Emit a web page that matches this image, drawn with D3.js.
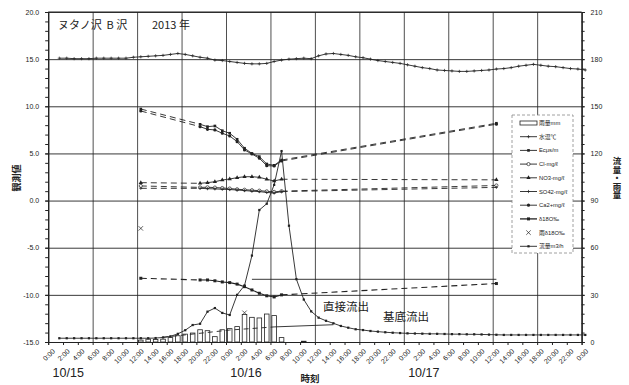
<!DOCTYPE html>
<html>
<head>
<meta charset="utf-8">
<script src="https://cdn.jsdelivr.net/npm/d3@7"></script>
<style>
  body { margin: 0; background: #fff; }
  svg { display: block; }
</style>
</head>
<body>
<svg id="chart" width="629" height="385"></svg>
<script>
// hourly records, hour counted from 10/15 0:00
const hours = [1,2,3,4,5,6,7,8,9,10,11,12,13,14,15,16,17,18,19,20,21,22,23,24,
  25,26,27,28,29,30,31,32,33,34,35,36,37,38,39,40,41,42,43,44,45,46,47,48,
  49,50,51,52,53,54,55,56,57,58,59,60,61,62,63,64,65,66,67,68,69,70,71,72];
const waterTemp = [15.1,15.1,15.05,15.05,15.05,15.1,15.1,15.1,15.1,15.1,15.2,15.25,
  15.3,15.35,15.4,15.5,15.6,15.5,15.35,15.2,15.1,14.9,14.85,14.75,
  14.65,14.55,14.5,14.5,14.55,14.75,14.9,15.0,15.05,15.1,15.05,15.35,
  15.55,15.6,15.5,15.4,15.25,15.15,15.0,14.85,14.75,14.65,14.55,14.4,
  14.25,14.1,14.0,13.85,13.8,13.75,13.7,13.7,13.75,13.8,13.85,13.95,
  14.0,14.1,14.25,14.35,14.45,14.35,14.25,14.2,14.1,14.0,13.95,13.85];
const flow = [2.4,2.4,2.4,2.4,2.4,2.4,2.4,2.4,2.4,2.4,2.4,2.4,
  2.4,2.5,2.9,3.6,5.2,7.5,10.8,11.6,19.3,21.6,18.5,17.2,
  30,36,55,84,88,100,121.5,74,40,27,19.5,15.5,
  13.5,11.9,10.2,9.1,8.1,7.6,7.0,6.6,6.2,5.9,5.7,5.5,
  5.4,5.3,5.2,5.2,5.1,5.0,5.0,4.9,4.9,4.8,4.7,4.6,
  4.5,4.5,4.5,4.5,4.5,4.5,4.5,4.5,4.5,4.5,4.5,4.5];

// rainfall (mm)
const rainHours = [12,13,14,15,16,17,18,19,20,21,22,23,24,25,26,27,28,29,30,31,34];
const rain = [1.2,1.8,1.6,1.8,2.8,4.0,5.0,5.7,7.8,7.2,3.4,7.8,8.5,9.8,17.5,15.7,15.3,17.8,16.8,2.8,0.5];

// water samples
const chemHours = [12,20,21,22,23,24,25,26,27,28,29,30,31,60];
const ec  = [9.71,8.09,7.84,7.91,7.41,7.14,6.5,5.55,5.0,4.66,3.88,3.74,4.3,8.2];
const cl  = [1.55,1.4,1.41,1.38,1.33,1.28,1.2,1.15,1.1,1.05,0.98,0.92,1.0,1.6];
const no3 = [1.9,1.83,1.9,2.0,2.18,2.29,2.43,2.53,2.53,2.47,2.26,2.08,2.26,2.2];
const so4 = [1.3,1.3,1.26,1.24,1.2,1.17,1.12,1.06,1.0,0.95,0.86,0.8,0.95,1.4];
const ca  = [9.5,7.84,7.56,7.49,7.14,6.85,6.25,5.37,4.94,4.49,3.7,3.67,4.2,8.1];
const d18O = [-8.24,-8.42,-8.42,-8.51,-8.63,-8.7,-8.86,-9.13,-9.48,-9.83,-10.1,-10.22,-10.0,-8.8];

const rainD18OHours = [12, 26];
const rainD18O = [-2.95, -11.9];

// hydrograph separation
const baseHours = [15, 24, 30, 38];
const baseFlow = [3.0, 7.6, 9.6, 11.0];
const refHours = [27, 60];
const refD18O = [-8.35, -8.35];

const hourLabels = ['0:00','2:00','4:00','6:00','8:00','10:00','12:00','14:00','16:00','18:00','20:00','22:00'];
const dayLabels = ['10/15','10/16','10/17'];
const legendLabels = ['雨量mm','水温℃','Ecμs/m','Cl-mg/ℓ','NO3-mg/ℓ','SO42-mg/ℓ','Ca2+mg/ℓ','δ18O‰','雨δ18O‰','流量m3/h'];

const latin = '"Liberation Sans", Arial, sans-serif';
const jp = '"Noto Sans CJK JP", "Noto Sans CJK SC", sans-serif';
const ink = '#222';

const svg = d3.select('#chart');
const plotL = 48.2, plotR = 581.6, plotT = 12, plotB = 342;

const x = d3.scaleLinear().domain([0, 72]).range([plotL, plotR]);
const yL = d3.scaleLinear().domain([-15, 20]).range([plotB, plotT]);
const yR = d3.scaleLinear().domain([0, 210]).range([plotB, plotT]);
// values sit in the middle of their hour
const xc = h => x(h + 0.5);

// grid
svg.append('g')
  .attr('transform', `translate(0,${plotB})`)
  .call(d3.axisBottom(x).tickValues(d3.range(0, 73, 6)).tickSize(-(plotB - plotT)).tickFormat(''))
  .call(g => g.select('.domain').remove())
  .selectAll('line').attr('stroke', '#888').attr('stroke-width', 0.8);

svg.append('g')
  .attr('transform', `translate(${plotL},0)`)
  .call(d3.axisLeft(yL).tickValues(d3.range(-15, 21, 5)).tickSize(-(plotR - plotL)).tickFormat(''))
  .call(g => g.select('.domain').remove())
  .selectAll('line').attr('stroke', '#999').attr('stroke-width', 0.9);

// axes
const leftAxis = svg.append('g').attr('transform', `translate(${plotL},0)`);
leftAxis.call(d3.axisLeft(yL).tickValues(d3.range(-15, 20.01, 1)).tickSize(3).tickFormat(''));
leftAxis.append('g').call(d3.axisLeft(yL).tickValues(d3.range(-15, 21, 5)).tickSize(3).tickPadding(6)
  .tickFormat(d => d.toFixed(1)));

const rightAxis = svg.append('g').attr('transform', `translate(${plotR},0)`);
rightAxis.call(d3.axisRight(yR).tickValues(d3.range(0, 211, 6)).tickSize(3).tickFormat(''));
rightAxis.append('g').call(d3.axisRight(yR).tickValues(d3.range(0, 211, 30)).tickSize(3).tickPadding(6));

const xAxis = svg.append('g').attr('transform', `translate(0,${plotB})`)
  .call(d3.axisBottom(x).tickValues(d3.range(0, 73, 2)).tickSize(3)
    .tickFormat(h => hourLabels[(h % 24) / 2]));
xAxis.selectAll('text')
  .attr('x', 0).attr('y', 0).attr('dy', '0.35em')
  .attr('transform', 'translate(5,8) rotate(-45)')
  .style('text-anchor', 'end');

svg.selectAll('.tick text').attr('font-family', latin).attr('font-size', 7).attr('fill', ink);
svg.selectAll('.domain, .tick line').attr('stroke', ink);
svg.selectAll('.domain').attr('stroke-width', 1);

svg.append('line').attr('x1', plotL).attr('x2', plotR).attr('y1', plotT).attr('y2', plotT)
  .attr('stroke', ink).attr('stroke-width', 1);

// rainfall bars
svg.append('g').selectAll('rect')
  .data(rainHours.map((h, i) => ({ h, v: rain[i] })))
  .join('rect')
  .attr('x', d => xc(d.h) - 2.3)
  .attr('width', 4.6)
  .attr('y', d => yR(d.v))
  .attr('height', d => yR(0) - yR(d.v))
  .attr('fill', '#fff')
  .attr('stroke', ink)
  .attr('stroke-width', 0.8);

// separation lines
const baseLine = d3.line().x(d => xc(d.h)).y(d => yR(d.v));
const basePts = baseHours.map((h, i) => ({ h, v: baseFlow[i] }));
svg.append('path').attr('d', baseLine(basePts.slice(0, 3)))
  .attr('fill', 'none').attr('stroke', ink).attr('stroke-width', 0.9).attr('stroke-dasharray', '5,4');
svg.append('path').attr('d', baseLine(basePts.slice(2)))
  .attr('fill', 'none').attr('stroke', ink).attr('stroke-width', 0.9);
svg.append('path')
  .attr('d', d3.line().x(d => xc(d.h)).y(d => yL(d.v))(refHours.map((h, i) => ({ h, v: refD18O[i] }))))
  .attr('fill', 'none').attr('stroke', ink).attr('stroke-width', 0.9);

// marker shapes
const plusShape = { draw(ctx, size) { const r = Math.sqrt(size) / 2; ctx.moveTo(-r, 0); ctx.lineTo(r, 0); ctx.moveTo(0, -r); ctx.lineTo(0, r); } };
const timesShape = { draw(ctx, size) { const r = Math.sqrt(size) / 2; ctx.moveTo(-r, -r); ctx.lineTo(r, r); ctx.moveTo(r, -r); ctx.lineTo(-r, r); } };
const markers = {
  plus:     { type: plusShape, size: 10, fill: 'none', stroke: ink },
  square:   { type: d3.symbolSquare, size: 7, fill: ink, stroke: 'none' },
  circleO:  { type: d3.symbolCircle, size: 8, fill: '#fff', stroke: ink },
  triangle: { type: d3.symbolTriangle, size: 8, fill: ink, stroke: 'none' },
  circle:   { type: d3.symbolCircle, size: 8, fill: ink, stroke: 'none' },
  bigSquare:{ type: d3.symbolSquare, size: 9, fill: ink, stroke: 'none' },
  times:    { type: timesShape, size: 20, fill: 'none', stroke: ink },
  small:    { type: d3.symbolSquare, size: 5, fill: ink, stroke: 'none' }
};

function drawMarkers(pts, yScale, m) {
  svg.append('g').selectAll('path')
    .data(pts)
    .join('path')
    .attr('transform', d => `translate(${xc(d.h)},${yScale(d.v)})`)
    .attr('d', d3.symbol().type(m.type).size(m.size))
    .attr('fill', m.fill)
    .attr('stroke', m.stroke)
    .attr('stroke-width', 0.7);
}

function drawSeries(hs, vals, yScale, m, width) {
  const pts = hs.map((h, i) => ({ h, v: vals[i] }));
  const line = d3.line().x(d => xc(d.h)).y(d => yScale(d.v));
  for (let i = 0; i < pts.length - 1; i++) {
    const gap = pts[i + 1].h - pts[i].h > 1;
    svg.append('path')
      .attr('d', line([pts[i], pts[i + 1]]))
      .attr('fill', 'none')
      .attr('stroke', ink)
      .attr('stroke-width', width)
      .attr('stroke-dasharray', gap ? '6,4' : null);
  }
  drawMarkers(pts, yScale, m);
}

drawSeries(hours, waterTemp, yL, markers.plus, 0.9);
drawSeries(chemHours, ec, yL, markers.square, 0.9);
drawSeries(chemHours, cl, yL, markers.circleO, 0.9);
drawSeries(chemHours, no3, yL, markers.triangle, 0.9);
drawSeries(chemHours, so4, yL, markers.plus, 0.9);
drawSeries(chemHours, ca, yL, markers.circle, 0.9);
drawSeries(chemHours, d18O, yL, markers.bigSquare, 1.1);
drawMarkers(rainD18OHours.map((h, i) => ({ h, v: rainD18O[i] })), yL, markers.times);
drawSeries(hours, flow, yR, markers.small, 0.9);

// legend
const legend = svg.append('g');
legend.append('rect').attr('x', 512).attr('y', 115).attr('width', 61).attr('height', 138)
  .attr('fill', '#fff').attr('stroke', '#888').attr('stroke-width', 0.8).attr('stroke-dasharray', '3,2');
const legendMarks = [null, markers.plus, markers.square, markers.circleO, markers.triangle,
  markers.plus, markers.circle, markers.bigSquare, markers.times, markers.small];
legendLabels.forEach((label, i) => {
  const ly = 123 + i * 13.7;
  const item = legend.append('g').attr('transform', `translate(520,${ly})`);
  if (i === 0) {
    item.append('rect').attr('x', 0).attr('y', -2).attr('width', 17).attr('height', 4)
      .attr('fill', '#fff').attr('stroke', ink).attr('stroke-width', 0.8);
  } else {
    if (i !== 8) {
      item.append('line').attr('x1', 0).attr('x2', 17).attr('stroke', ink).attr('stroke-width', i === 7 ? 1.3 : 0.9);
    }
    const m = legendMarks[i];
    item.append('path').attr('transform', 'translate(8.5,0)')
      .attr('d', d3.symbol().type(m.type).size(m.size))
      .attr('fill', m.fill).attr('stroke', m.stroke).attr('stroke-width', 0.7);
  }
  item.append('text').attr('x', 19).attr('y', 2)
    .attr('font-family', `${latin}, ${jp}`).attr('font-size', 5.8).attr('fill', ink)
    .text(label);
});

// texts
svg.append('text').attr('x', 58).attr('y', 29).attr('xml:space', 'preserve')
  .attr('font-family', jp).attr('font-size', 11).attr('fill', ink).text('ヌタノ沢  B 沢');
svg.append('text').attr('x', 152).attr('y', 29)
  .attr('font-family', jp).attr('font-size', 11).attr('fill', ink).text('2013 年');

svg.append('text').attr('transform', 'translate(20,178) rotate(-90)')
  .attr('text-anchor', 'middle').attr('font-family', jp).attr('font-size', 9).attr('font-weight', 'bold')
  .attr('fill', ink).text('観測値');

// vertical right title
svg.append('text').attr('x', 617).attr('y', 178)
  .attr('text-anchor', 'middle')
  .style('writing-mode', 'vertical-rl')
  .style('text-orientation', 'upright')
  .attr('font-family', jp).attr('font-size', 8.5).attr('font-weight', 'bold')
  .attr('fill', ink).text('流量・雨量');

dayLabels.forEach((d, i) => {
  svg.append('text').attr('x', x(i * 24 + 2.7)).attr('y', 377)
    .attr('text-anchor', 'middle').attr('font-family', latin).attr('font-size', 12.5)
    .attr('fill', ink).text(d);
});
svg.append('text').attr('x', 310).attr('y', 382)
  .attr('text-anchor', 'middle').attr('font-family', jp).attr('font-size', 9.5).attr('font-weight', 'bold')
  .attr('fill', ink).text('時刻');

svg.append('text').attr('x', 323).attr('y', 311)
  .attr('font-family', jp).attr('font-size', 11.5).attr('fill', ink).text('直接流出');
svg.append('text').attr('x', 383).attr('y', 321)
  .attr('font-family', jp).attr('font-size', 11.5).attr('fill', ink).text('基底流出');
</script>
</body>
</html>
